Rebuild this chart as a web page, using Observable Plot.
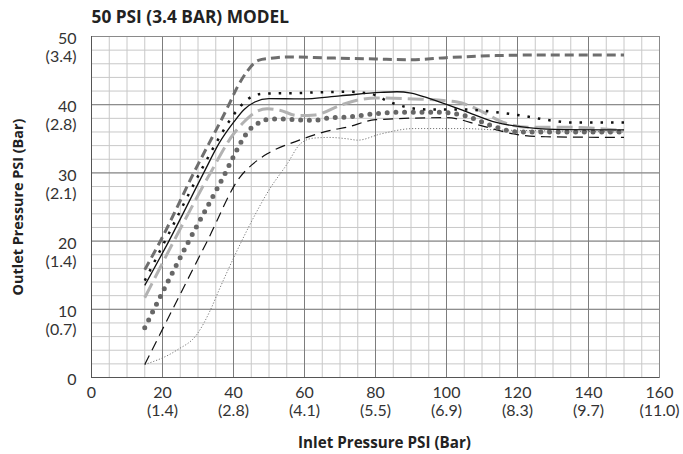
<!DOCTYPE html>
<html><head><meta charset="utf-8">
<script src="https://cdn.jsdelivr.net/npm/d3@7"></script>
<script src="https://cdn.jsdelivr.net/npm/@observablehq/plot@0.6"></script>
<style>
body{margin:0;background:#fff;}
#chart svg{display:block;}
</style></head><body><div id="chart"></div>
<script>
const title = "50 PSI (3.4 BAR) MODEL";
const xTitle = "Inlet Pressure PSI (Bar)";
const yTitle = "Outlet Pressure PSI (Bar)";
const xTicks = [0,20,40,60,80,100,120,140,160];
const xTickLabels = ["0","20\n(1.4)","40\n(2.8)","60\n(4.1)","80\n(5.5)","100\n(6.9)","120\n(8.3)","140\n(9.7)","160\n(11.0)"];
const yTicks = [0,10,20,30,40,50];
const yTickLabels = ["0","10\n(0.7)","20\n(1.4)","30\n(2.1)","40\n(2.8)","50\n(3.4)"];

// [inlet PSI, outlet PSI]
const darkDashed = [[15,15.8],[19.4,20],[28.8,30],[38.7,40],[41,42.5],[44,45],[47,46.5],[50.5,46.8],[55,47],[67,46.85],[80,46.7],[90,46.6],[100,46.9],[114,47.2],[130,47.3],[150,47.3]];
const blackDotted = [[15,14.2],[21,20.3],[31,30.5],[36,35.2],[40,38.5],[44,40.8],[48,41.6],[57,41.7],[72,41.9],[78.6,41.6],[84,40.4],[90,39.5],[95,39.3],[105,39.3],[114,38.9],[120,38.5],[128,37.8],[135,37.4],[150,37.4]];
const blackSolid = [[15,13.5],[21.8,20],[31.6,30],[36,34.4],[40,37.4],[43,39.3],[46,40.4],[50,40.9],[59,40.85],[70,41.3],[81.4,41.8],[86,41.9],[90,41.7],[95.5,40.85],[105,39.1],[114,37.4],[123.7,36.6],[133,36.35],[150,36.3]];
const lightLongDash = [[15,11.7],[23.2,20],[33.5,30],[40,35.7],[43,37.5],[46.2,38.9],[49.5,39.4],[53,39.2],[58,38.4],[63,38.5],[70,39.9],[76.7,40.85],[80,41],[90.8,40.85],[103,40.4],[109.6,39.1],[116,37.4],[123.7,36.7],[133,36.7],[150,36.2]];
const bigDots = [[15,7.3],[27.4,20],[37.7,30],[40.4,32.8],[42.9,35.2],[44.8,36.5],[46.7,37.2],[49,37.8],[53,37.9],[62.6,37.7],[67.3,38.1],[72,38.2],[79.5,38.65],[86,38.9],[98,38.9],[105,38.4],[114,36.7],[120,36],[133,36],[150,36]];
const blackLongDash = [[15,1.9],[32.6,20],[42,29.5],[45,31.1],[49.5,32.8],[58,34.7],[67,36.2],[72,36.7],[80,37.8],[100,38.1],[110,36.9],[119,35.7],[128,35.3],[150,35.2]];
const grayDotted = [[15,1.9],[24,4],[29.8,6.4],[33.5,9.9],[35.9,12.8],[41,18.6],[45.7,23.5],[49.9,27.4],[55.1,31.3],[58.9,34.3],[62.6,35.1],[67,35.2],[72,35],[75,34.8],[81.4,35.7],[90.8,36.5],[105,36.5],[114,36.3],[124,36.2],[150,36]];

const seriesList = [
  {data: grayDotted, stroke:"#7a7a7a", strokeWidth:1, dash:"1.2,1.8", cap:"butt"},
  {data: blackLongDash, stroke:"#111", strokeWidth:1.2, dash:"10,6", cap:"butt"},
  {data: bigDots, stroke:"#676767", strokeWidth:5, dash:"0,8.7", cap:"round"},
  {data: lightLongDash, stroke:"#b2b2b2", strokeWidth:3, dash:"16,6", cap:"butt"},
  {data: darkDashed, stroke:"#6e6e6e", strokeWidth:3, dash:"9,5", cap:"butt"},
  {data: blackSolid, stroke:"#111", strokeWidth:1.3, dash:null, cap:"butt"},
  {data: blackDotted, stroke:"#111", strokeWidth:2.5, dash:"2.5,8", cap:"butt"}
];

const lineMarks = seriesList.map(s => Plot.line(s.data.map(([x,y]) => ({x,y})), {
  x:"x", y:"y", curve:"monotone-x", stroke:s.stroke, strokeWidth:s.strokeWidth,
  strokeDasharray:s.dash, strokeLinecap:s.cap
}));

const boldFont = "'Open Sans', Lato, sans-serif";

const chart = Plot.plot({
  width:683, height:454,
  marginLeft:91, marginRight:24, marginTop:36, marginBottom:77,
  x:{domain:[0,160], axis:null},
  y:{domain:[0,50], axis:null},
  style:{fontFamily:"Lato, sans-serif", background:"#fff", color:"#333"},
  marks:[
    Plot.gridX({interval:5, stroke:"#c8c8c8", strokeOpacity:1}),
    Plot.gridY({interval:2, stroke:"#c8c8c8", strokeOpacity:1}),
    Plot.gridX({interval:20, stroke:"#7d7d7d", strokeOpacity:1}),
    Plot.gridY({interval:10, stroke:"#7d7d7d", strokeOpacity:1}),
    Plot.frame({stroke:"#8a8a8a"}),
    Plot.ruleX([0], {stroke:"#555"}),
    Plot.ruleY([0], {stroke:"#555"}),
    ...lineMarks,
    Plot.text(xTicks, {x:d=>d, frameAnchor:"bottom", text:(d,i)=>xTickLabels[i], textAnchor:"middle", lineAnchor:"top", dy:8, fontSize:16, lineHeight:1.1, fill:"#333"}),
    Plot.text(yTicks, {y:d=>d, frameAnchor:"left", text:(d,i)=>yTickLabels[i], textAnchor:"end", lineAnchor:"top", dx:-15, dy:-5, fontSize:16, lineHeight:1.12, fill:"#333"}),
    Plot.text([title], {frameAnchor:"top-left", textAnchor:"start", lineAnchor:"bottom", dy:-14, fontSize:17.3, fontWeight:700, fontFamily:boldFont, fill:"#222"}),
    Plot.text([xTitle], {frameAnchor:"bottom", textAnchor:"middle", lineAnchor:"bottom", dx:9, dy:70, fontSize:15.2, fontWeight:700, fontFamily:boldFont, fill:"#222"}),
    Plot.text([yTitle], {frameAnchor:"left", textAnchor:"middle", lineAnchor:"bottom", rotate:-90, dx:-69, fontSize:14.4, fontWeight:700, fontFamily:boldFont, fill:"#222"})
  ]
});
document.getElementById("chart").appendChild(chart);
</script></body></html>
